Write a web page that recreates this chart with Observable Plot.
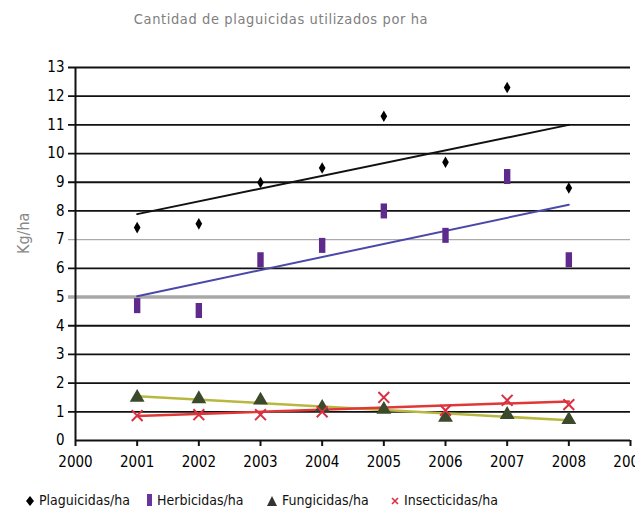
<!DOCTYPE html>
<html>
<head>
<meta charset="utf-8">
<script src="https://cdn.jsdelivr.net/npm/d3@7"></script>
<script src="https://cdn.jsdelivr.net/npm/@observablehq/plot@0.6"></script>
<style>
  body { margin: 0; background: #fff; }
  #wrap { position: relative; width: 635px; height: 517px; overflow: hidden; background: #fff;
          font-family: "Liberation Sans Narrow", "DejaVu Sans Condensed", "Liberation Sans", sans-serif; }
  #title { position: absolute; top: 11px; left: 0; width: 562px; text-align: center; color: #808080;
           font-size: 14.5px; letter-spacing: 0.6px; }
  #legend { position: absolute; top: 492px; left: 0; width: 635px; height: 20px; font-size: 14px; color: #111; }
  #legend span.item { position: absolute; top: 0; white-space: nowrap; }
  #legend svg { vertical-align: -2px; margin-right: 4px; }
</style>
</head>
<body>
<div id="wrap">
  <div id="title">Cantidad de plaguicidas utilizados por ha</div>
  <div id="chart"></div>
  <div id="legend"></div>
</div>
<script>
const years = [2001, 2002, 2003, 2004, 2005, 2006, 2007, 2008];
const plaguicidas = [7.42, 7.55, 8.99, 9.5, 11.3, 9.7, 12.3, 8.8];
const herbicidas = [4.7, 4.53, 6.3, 6.8, 8.0, 7.15, 9.2, 6.3];
const fungicidas = [1.5, 1.45, 1.4, 1.15, 1.08, 0.8, 0.9, 0.72];
const insecticidas = [0.87, 0.9, 0.9, 1.0, 1.5, 1.05, 1.4, 1.25];
const xTicks = [2000, 2001, 2002, 2003, 2004, 2005, 2006, 2007, 2008, 2009];
const yTicks = [0, 1, 2, 3, 4, 5, 6, 7, 8, 9, 10, 11, 12, 13];
const seriesNames = ["Plaguicidas/ha", "Herbicidas/ha", "Fungicidas/ha", "Insecticidas/ha"];

const toRows = vals => years.map((x, i) => ({x, y: vals[i]}));
const pRows = toRows(plaguicidas), hRows = toRows(herbicidas),
      fRows = toRows(fungicidas), iRows = toRows(insecticidas);

const rectSym = { draw(c) { c.rect(-3.2, -7.5, 6.4, 15); } };

const blackGrid = yTicks.filter(v => v !== 0 && v !== 5 && v !== 7);
const fmt = d => String(d);

const chart = Plot.plot({
  width: 635, height: 517,
  marginLeft: 75, marginRight: 5, marginTop: 67, marginBottom: 77,
  x: {domain: [2000, 2009], ticks: xTicks, tickFormat: fmt, label: null},
  y: {domain: [0, 13], ticks: yTicks, label: null},
  style: {fontFamily: '"Liberation Sans Narrow", "DejaVu Sans Condensed", "Liberation Sans", sans-serif',
          fontSize: "15px", color: "#000", background: "transparent", overflow: "visible"},
  marks: [
    Plot.ruleY(blackGrid, {stroke: "#111", strokeWidth: 1.8, x1: 2000, x2: 2009, insetLeft: -7}),
    Plot.ruleY([7], {stroke: "#aaa", strokeWidth: 1.3, x1: 2000, x2: 2009, insetLeft: -7}),
    Plot.ruleY([5], {stroke: "#a8a8a8", strokeWidth: 3.5, x1: 2000, x2: 2009, insetLeft: -7}),
    Plot.axisY({ticks: yTicks, tickFormat: fmt, tickSize: 0, tickPadding: 11, fill: "#000"}),
    Plot.axisX({ticks: xTicks, tickFormat: fmt, tickSize: 6, tickPadding: 10, stroke: "#111", strokeWidth: 2, fill: "#000"}),
    Plot.ruleX([2000], {stroke: "#111", strokeWidth: 2}),
    Plot.ruleY([0], {stroke: "#111", strokeWidth: 2}),
    Plot.text(["Kg/ha"], {frameAnchor: "left", dx: -52, rotate: -90, fill: "#888", fontSize: 16}),
    Plot.linearRegressionY(pRows, {x: "x", y: "y", stroke: "#111", strokeWidth: 2, ci: 0}),
    Plot.linearRegressionY(hRows, {x: "x", y: "y", stroke: "#4a48a8", strokeWidth: 2, ci: 0}),
    Plot.linearRegressionY(fRows, {x: "x", y: "y", stroke: "#b8b840", strokeWidth: 2.5, ci: 0}),
    Plot.linearRegressionY(iRows, {x: "x", y: "y", stroke: "#e03838", strokeWidth: 2.5, ci: 0}),
    Plot.dot(pRows, {x: "x", y: "y", symbol: "diamond", fill: "#000", r: 3.5}),
    Plot.dot(hRows, {x: "x", y: "y", symbol: rectSym, fill: "#5e2a8c"}),
    Plot.dot(fRows, {x: "x", y: "y", symbol: "triangle", fill: "#3b4a2a", r: 5.5}),
    Plot.dot(iRows, {x: "x", y: "y", symbol: "times", stroke: "#d83040", strokeWidth: 2, r: 5})
  ]
});
document.getElementById("chart").appendChild(chart);

// legend
const legendSyms = [
  '<svg width="10" height="12"><path d="M5 1 L9 6 L5 11 L1 6Z" fill="#000"/></svg>',
  '<svg width="6" height="14"><rect x="0" y="1" width="5" height="12" fill="#6a34a0"/></svg>',
  '<svg width="12" height="12"><path d="M6 1 L11 11 L1 11Z" fill="#333"/></svg>',
  '<svg width="10" height="12"><path d="M2 3 L8 9 M8 3 L2 9" stroke="#d83040" stroke-width="1.6"/></svg>'
];
const legendX = [25, 147, 266, 390];
const leg = document.getElementById("legend");
seriesNames.forEach((name, i) => {
  const s = document.createElement("span");
  s.className = "item";
  s.style.left = legendX[i] + "px";
  s.innerHTML = legendSyms[i];
  s.appendChild(document.createTextNode(name));
  leg.appendChild(s);
});
</script>
</body>
</html>
